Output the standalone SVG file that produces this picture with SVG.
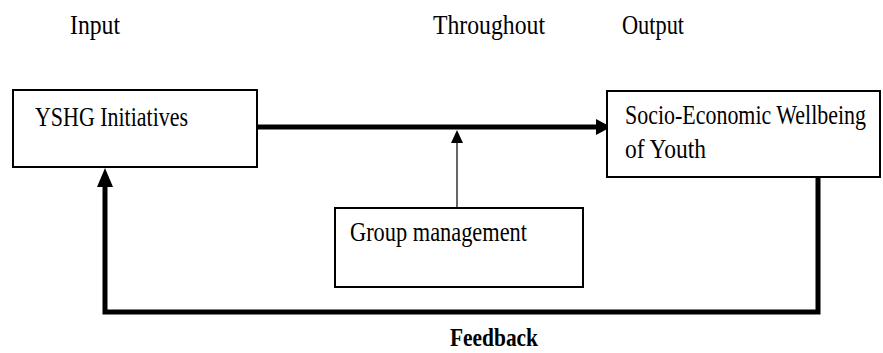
<svg xmlns="http://www.w3.org/2000/svg" width="883" height="353" viewBox="0 0 883 353">
<style>
text{font-family:"Liberation Serif","Times New Roman",serif;font-size:23px;fill:#000}
.box{fill:#fff;stroke:#000;stroke-width:2}
.thick{fill:none;stroke:#000;stroke-width:5}
.thin{fill:none;stroke:#555;stroke-width:1.8}
.b{font-weight:bold;font-size:22px}
</style>
<rect width="883" height="353" fill="#fff"/>
<text transform="translate(70 34) scale(1 1.17)" textLength="50" lengthAdjust="spacingAndGlyphs">Input</text>
<text transform="translate(433 34) scale(1 1.17)" textLength="112" lengthAdjust="spacingAndGlyphs">Throughout</text>
<text transform="translate(622 34) scale(1 1.17)" textLength="62" lengthAdjust="spacingAndGlyphs">Output</text>
<g id="connectors">
<line class="thick" x1="257" y1="127" x2="598" y2="127"/>
<polygon points="596,119 611,127 596,135" fill="#000"/>
<line class="thin" x1="457" y1="208" x2="457" y2="142"/>
<polygon points="451,143 457,130 463,143" fill="#000"/>
<polyline class="thick" points="818,177 818,312 105,312 105,184" stroke-linejoin="miter"/>
<polygon points="97,187 105,168 113,187" fill="#000"/>
</g>
<g id="yshg">
<rect class="box" x="13" y="90" width="244" height="77"/>
<text transform="translate(35 126) scale(1 1.17)" textLength="153" lengthAdjust="spacingAndGlyphs">YSHG Initiatives</text>
</g>
<g id="wellbeing">
<rect class="box" x="607" y="91" width="273" height="86"/>
<text transform="translate(625 124) scale(1 1.17)" textLength="241" lengthAdjust="spacingAndGlyphs">Socio-Economic Wellbeing</text>
<text transform="translate(625 158) scale(1 1.17)" textLength="81" lengthAdjust="spacingAndGlyphs">of Youth</text>
</g>
<g id="group">
<rect class="box" x="335" y="208" width="248" height="79"/>
<text transform="translate(350 241) scale(1 1.17)" textLength="177" lengthAdjust="spacingAndGlyphs">Group management</text>
</g>
<text class="b" transform="translate(450 346) scale(1 1.17)" textLength="88" lengthAdjust="spacingAndGlyphs">Feedback</text>
</svg>
